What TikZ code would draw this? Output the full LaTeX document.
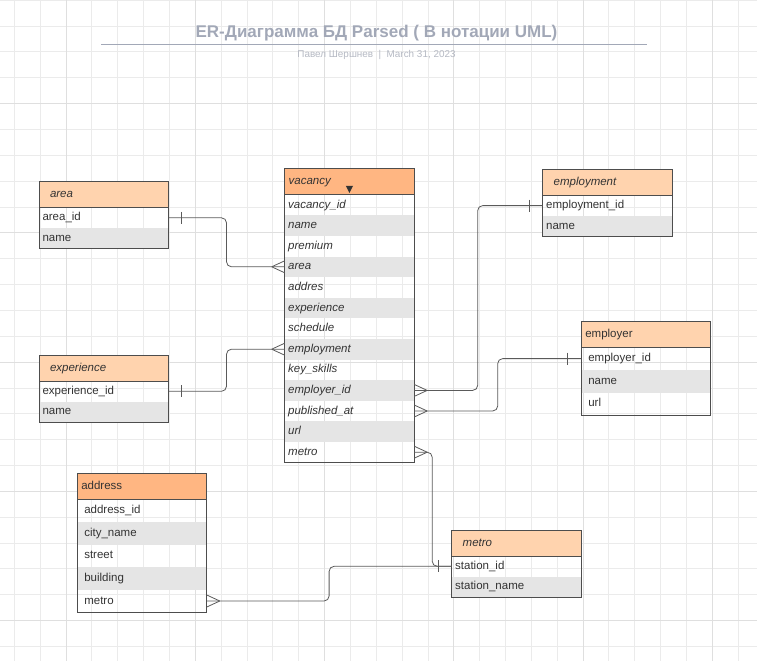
\documentclass[tikz,border=0pt]{standalone}
\usepackage{fontspec}
\setmainfont{Liberation Sans}
\usetikzlibrary{positioning, calc}

\definecolor{gridminor}{HTML}{EBEBEB}
\definecolor{gridmajor}{HTML}{DFDFDF}
\definecolor{headlight}{HTML}{FFD3AE}
\definecolor{headdark}{HTML}{FFB682}
\definecolor{rowgray}{HTML}{E5E5E5}
\definecolor{framegray}{HTML}{4D4D4D}
\definecolor{linkgray}{HTML}{5A5A5A}
\definecolor{titlegray}{HTML}{A2A8B7}
\definecolor{subgray}{HTML}{B5B9C3}
\definecolor{textgray}{HTML}{333333}

\begin{document}
\begin{tikzpicture}[x=1pt, y=-1pt,
    gridline/.style={draw=gridminor, line width=0.8pt},
    gridbold/.style={draw=gridmajor, line width=0.8pt},
    tblhead/.style={draw=framegray, line width=0.9pt, fill=headlight, anchor=north west, outer sep=0pt, minimum height=26pt, inner ysep=0pt, inner xsep=4pt, text width=121.5pt, align=left, text height=8.5pt, text depth=2.5pt, font=\fontsize{11.5}{13}\selectfont, text=textgray},
    ithead/.style={tblhead, inner xsep=11pt, text width=107.5pt, font=\fontsize{11.5}{13}\selectfont\itshape},
    fld/.style={outer sep=0pt, minimum height=20.6pt, inner ysep=0pt, inner xsep=3.5pt, text width=122.5pt, align=left, text height=8.5pt, text depth=2.5pt, font=\fontsize{11.5}{13}\selectfont, text=textgray},
    fldwide/.style={fld, minimum height=22.6pt, inner xsep=7pt, text width=115.5pt},
    itfld/.style={fld, font=\fontsize{11.5}{13}\selectfont\itshape},
    shade/.style={fill=rowgray},
    frame/.style={draw=framegray, line width=0.9pt},
    link/.style={draw=linkgray, line width=0.8pt, rounded corners=5pt},
    ermark/.style={draw=linkgray, line width=0.8pt}
]
    \useasboundingbox (0,0) rectangle (757,661);

    % Background grid
    \foreach \i in {0,...,28}
        \draw[gridline] ({14.3+25.85*\i},0) -- ({14.3+25.85*\i},661);
    \foreach \j in {0,...,25}
        \draw[gridline] (0,{0.15+25.85*\j}) -- (757,{0.15+25.85*\j});
    \foreach \i in {0,...,5}
        \draw[gridbold] ({66+129.25*\i},0) -- ({66+129.25*\i},661);
    \foreach \j in {0,...,4}
        \draw[gridbold] (0,{103.55+129.25*\j}) -- (757,{103.55+129.25*\j});

    % Title
    \node[font=\fontsize{17}{20}\selectfont\bfseries, text=titlegray] (title) at (376.5,33) {ER-Диаграмма БД Parsed ( В нотации UML)};
    \draw[titlegray, line width=0.9pt] (101,44) -- (647,44);
    \node[font=\fontsize{9.9}{11}\selectfont, text=subgray] (subtitle) at (376.5,54.5) {Павел Шершнев\ \ |\ \ March 31, 2023};

    % Table: area
    \node[ithead] (area) at (39,181.5) {area};
    \node[fld, below=0pt of area] (area-id) {area\_id};
    \node[fld, shade, below=0pt of area-id] (area-name) {name};
    \draw[frame] (area.north west) rectangle (area-name.south east);

    % Table: experience
    \node[ithead] (exp) at (39,355) {experience};
    \node[fld, below=0pt of exp] (exp-id) {experience\_id};
    \node[fld, shade, below=0pt of exp-id] (exp-name) {name};
    \draw[frame] (exp.north west) rectangle (exp-name.south east);

    % Table: vacancy
    \node[tblhead, fill=headdark, font=\fontsize{11.5}{13}\selectfont\itshape] (vac) at (284.7,168.7) {vacancy};
    \fill[textgray] ($(vac.south)+(0,-1.8)$) -- ++(-3.6,-7) -- ++(7.2,0) -- cycle;
    \node[itfld, below=0pt of vac] (vac-id) {vacancy\_id};
    \node[itfld, shade, below=0pt of vac-id] (vac-name) {name};
    \node[itfld, below=0pt of vac-name] (vac-premium) {premium};
    \node[itfld, shade, below=0pt of vac-premium] (vac-area) {area};
    \node[itfld, below=0pt of vac-area] (vac-addres) {addres};
    \node[itfld, shade, below=0pt of vac-addres] (vac-exp) {experience};
    \node[itfld, below=0pt of vac-exp] (vac-schedule) {schedule};
    \node[itfld, shade, below=0pt of vac-schedule] (vac-employment) {employment};
    \node[itfld, below=0pt of vac-employment] (vac-skills) {key\_skills};
    \node[itfld, shade, below=0pt of vac-skills] (vac-employer) {employer\_id};
    \node[itfld, below=0pt of vac-employer] (vac-published) {published\_at};
    \node[itfld, shade, below=0pt of vac-published] (vac-url) {url};
    \node[itfld, below=0pt of vac-url] (vac-metro) {metro};
    \draw[frame] (vac.north west) rectangle (vac-metro.south east);

    % Table: employment
    \node[ithead] (empl) at (542.7,169.3) {employment};
    \node[fld, below=0pt of empl] (empl-id) {employment\_id};
    \node[fld, shade, below=0pt of empl-id] (empl-name) {name};
    \draw[frame] (empl.north west) rectangle (empl-name.south east);

    % Table: employer
    \node[tblhead] (emp) at (581.3,321.3) {employer};
    \node[fldwide, below=0pt of emp] (emp-id) {employer\_id};
    \node[fldwide, shade, below=0pt of emp-id] (emp-name) {name};
    \node[fldwide, below=0pt of emp-name] (emp-url) {url};
    \draw[frame] (emp.north west) rectangle (emp-url.south east);

    % Table: address
    \node[tblhead, fill=headdark] (addr) at (77.3,473.3) {address};
    \node[fldwide, below=0pt of addr] (addr-id) {address\_id};
    \node[fldwide, shade, below=0pt of addr-id] (addr-city) {city\_name};
    \node[fldwide, below=0pt of addr-city] (addr-street) {street};
    \node[fldwide, shade, below=0pt of addr-street] (addr-building) {building};
    \node[fldwide, below=0pt of addr-building] (addr-metro) {metro};
    \draw[frame] (addr.north west) rectangle (addr-metro.south east);

    % Table: metro
    \node[ithead] (metro) at (451.7,530) {metro};
    \node[fld, below=0pt of metro] (metro-id) {station\_id};
    \node[fld, shade, below=0pt of metro-id] (metro-name) {station\_name};
    \draw[frame] (metro.north west) rectangle (metro-name.south east);

    % Relations
    \draw[link] (area-id.east) -- ++(58,0) |- (vac-area.west);
    \draw[link] (exp-id.east) -- ++(58,0) |- (vac-employment.west);
    \draw[link] (empl-id.west) -- ++(-65,0) |- (vac-employer.east);
    \draw[link] (emp-id.west) -- ++(-83.6,0) |- (vac-published.east);
    \draw[link] (vac-metro.east) -- ++(18,0) |- (metro-id.west);
    \draw[link] (addr-metro.east) -- ++(122.3,0) |- (metro-id.west);

    % One-side bars
    \draw[ermark] ($(area-id.east)+(13,-6)$) -- ++(0,12);
    \draw[ermark] ($(exp-id.east)+(13,-6)$) -- ++(0,12);
    \draw[ermark] ($(empl-id.west)+(-13.4,-6)$) -- ++(0,12);
    \draw[ermark] ($(emp-id.west)+(-13.6,-6)$) -- ++(0,12);
    \draw[ermark] ($(metro-id.west)+(-13.4,-6)$) -- ++(0,12);

    % Many-side crow's feet
    \draw[ermark] ($(vac-area.west)+(-13,0)$) -- ++(13,-6) ($(vac-area.west)+(-13,0)$) -- ++(13,6);
    \draw[ermark] ($(vac-employment.west)+(-13,0)$) -- ++(13,-6) ($(vac-employment.west)+(-13,0)$) -- ++(13,6);
    \draw[ermark] ($(vac-employer.east)+(13,0)$) -- ++(-13,-6) ($(vac-employer.east)+(13,0)$) -- ++(-13,6);
    \draw[ermark] ($(vac-published.east)+(13,0)$) -- ++(-13,-6) ($(vac-published.east)+(13,0)$) -- ++(-13,6);
    \draw[ermark] ($(vac-metro.east)+(13,0)$) -- ++(-13,-6) ($(vac-metro.east)+(13,0)$) -- ++(-13,6);
    \draw[ermark] ($(addr-metro.east)+(13,0)$) -- ++(-13,-6) ($(addr-metro.east)+(13,0)$) -- ++(-13,6);

\end{tikzpicture}
\end{document}
